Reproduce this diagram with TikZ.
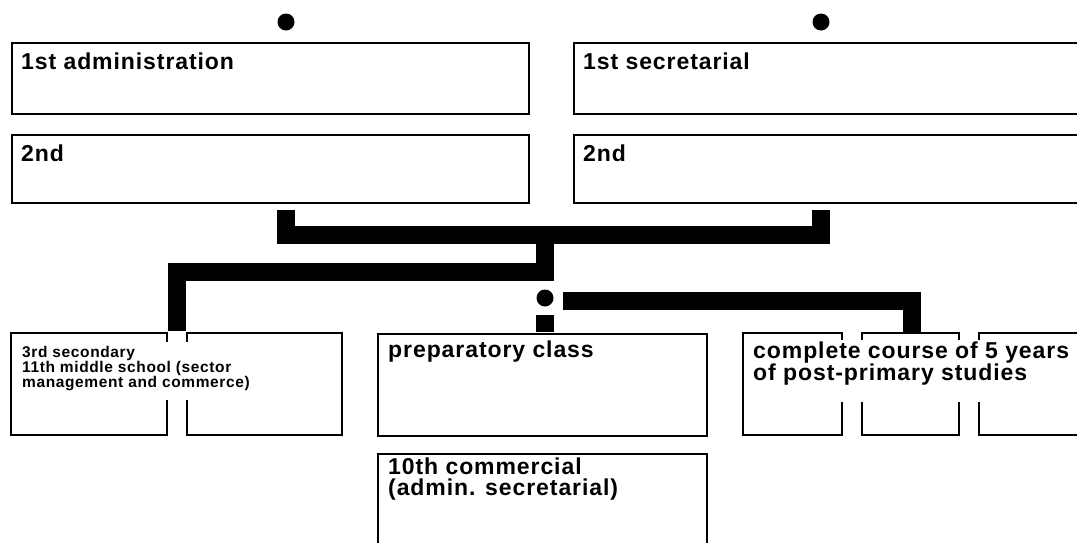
\documentclass[tikz,border=0pt]{standalone}
\usepackage{fontspec}
\setmainfont{Liberation Sans}
\newfontfamily\lblfont[LetterSpace=4]{Liberation Sans}
\newfontfamily\smlfont[LetterSpace=4]{Liberation Sans}
\begin{document}
\begin{tikzpicture}[x=1pt,y=-1pt,
  box/.style={draw=black,line width=2pt,inner sep=0pt,anchor=north west,line join=miter},
  frame/.style={draw=black,line width=2pt,line join=miter,line cap=butt},
  lbl/.style={anchor=base west,inner sep=0pt,font=\lblfont\bfseries\fontsize{23}{22.5}\selectfont},
  sml/.style={anchor=base west,inner sep=0pt,font=\smlfont\bfseries\fontsize{15.5}{15}\selectfont},
  dot/.style={circle,fill=black,draw=none,inner sep=0pt,minimum size=17pt},
  bar/.style={draw=black,line width=18pt,line cap=butt,line join=miter}]
\useasboundingbox (0,0) rectangle (1077,542);
\clip (0,0) rectangle (1077,542);
\fill[white] (0,0) rectangle (1077,542);

% top dots
\node[dot] (dotA) at (286,22) {};
\node[dot] (dotC) at (821,22) {};

% upper boxes
\node[box,minimum width=517pt,minimum height=71pt] (boxA) at (11,42) {};
\node[box,minimum width=517pt,minimum height=68pt] (boxB) at (11,134) {};
\node[box,minimum width=560pt,minimum height=71pt] (boxC) at (573,42) {};
\node[box,minimum width=560pt,minimum height=68pt] (boxD) at (573,134) {};

\node[lbl] (tA) at (21,69) {1st administration};
\node[lbl] (tB) at (21,161) {2nd};
\node[lbl] (tC) at (583,69) {1st secretarial};
\node[lbl] (tD) at (583,161) {2nd};

% lower boxes
\node[box,minimum width=329pt,minimum height=102pt] (prep) at (377,333) {};
\node[box,minimum width=329pt,minimum height=130pt] (tenth) at (377,453) {};

% broken box: 3rd secondary
\draw[frame] (167,342) -- (167,333) -- (11,333) -- (11,435) -- (167,435) -- (167,400);
\draw[frame] (187,342) -- (187,333) -- (342,333) -- (342,435) -- (187,435) -- (187,400);
% broken boxes: complete course
\draw[frame] (842,340) -- (842,333) -- (743,333) -- (743,435) -- (842,435) -- (842,402);
\draw[frame] (862,340) -- (862,333) -- (959,333) -- (959,340);
\draw[frame] (862,402) -- (862,435) -- (959,435) -- (959,402);
\draw[frame] (979,340) -- (979,333) -- (1100,333);
\draw[frame] (979,402) -- (979,435) -- (1100,435);

\node[sml] (tThird) at (22,357) {\vtop{\lineskiplimit=-50pt \hbox{3rd secondary}\hbox{11th middle school (sector}\hbox{management and commerce)}}};
\node[lbl] (tPrep) at (388,357) {preparatory class};
\node[lbl] (tComp) at (753,358) {\vtop{\lineskiplimit=-50pt \hbox{complete course of 5 years}\hbox{of post-primary studies}}};
\node[lbl] (tTenth) at (388,474) {\vtop{\lineskiplimit=-50pt \baselineskip=21.5pt \hbox{10th commercial}\hbox{(admin. secretarial)}}};

% connector coordinates
\coordinate (sA) at (286,210);
\coordinate (sC) at (821,210);
\coordinate (k1) at (286,235);
\coordinate (k2) at (821,235);
\coordinate (m1) at (545,235);
\coordinate (m2) at (545,272);
\coordinate (l1) at (176.5,272);
\coordinate (l2) at (176.5,331);
\node[dot] (dotM) at (545,298) {};
\coordinate (p1) at (545,315);
\coordinate (p2) at (545,332);
\coordinate (r1) at (563,301);
\coordinate (r2) at (912,301);
\coordinate (r3) at (912,332);

\draw[bar] (sA) -- (k1) -- (k2) -- (sC);
\draw[bar] (m1) -- (m2) -- (l1) -- (l2);
\draw[bar] (p1) -- (p2);
\draw[bar] (r1) -- (r2) -- (r3);
\end{tikzpicture}
\end{document}
